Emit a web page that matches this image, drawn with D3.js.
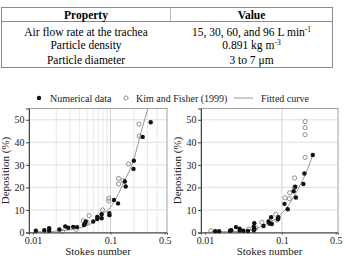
<!DOCTYPE html>
<html>
<head>
<meta charset="utf-8">
<script src="https://cdn.jsdelivr.net/npm/d3@7"></script>
<style>
  body { margin: 0; background: #fff; }
  svg { display: block; font-family: "Liberation Serif", "Times New Roman", serif; }
</style>
</head>
<body>
<script>
let width = 345;
let height = 256;

// table rows
let tableHeader = ["Property", "Value"];
let tableProps = ["Air flow rate at the trachea", "Particle density", "Particle diameter"];
let tableValues = [
    ["15, 30, 60, and 96 L min", "-1"],
    ["0.891 kg m", "-3"],
    ["3 to 7 \u03bcm", ""]
];

// axis ticks
let xTicks = [0.01, 0.1, 0.5];
let xTickLabels = ["0.01", "0.1", "0.5"];
let yTicks = [0, 10, 20, 30, 40, 50];

// left panel
let leftNumerical = [
    [0.0109, 0.8], [0.014, 1.0], [0.0162, 1.9], [0.0162, 0.8], [0.0219, 1.3],
    [0.0261, 2.7], [0.0285, 2.1], [0.033, 2.5], [0.037, 2.4], [0.0455, 3.3],
    [0.047, 4.0], [0.048, 4.9], [0.06, 4.9], [0.0676, 6.0], [0.0676, 6.9],
    [0.077, 6.3], [0.077, 8.1], [0.0966, 8.6], [0.097, 7.7], [0.111, 14.4],
    [0.125, 12.9], [0.153, 22.6], [0.157, 20.4], [0.2, 31.8], [0.198, 28.2],
    [0.26, 42.4], [0.33, 48.9]
];
let leftKim = [
    [0.024, 0.4], [0.036, 1.4], [0.0446, 5.2], [0.05, 4.5], [0.053, 7.5],
    [0.068, 6.7], [0.079, 10.0], [0.095, 15.2], [0.095, 14.0], [0.127, 24.0],
    [0.127, 21.5], [0.145, 23.0], [0.171, 30.4], [0.233, 48.1], [0.235, 42.8]
];
let leftFit = [
    [0.011, 0.3], [0.02, 0.6], [0.04, 2.0], [0.06, 4.5], [0.08, 8.3],
    [0.1, 11.2], [0.12, 15.6], [0.15, 22.6], [0.2, 32.5], [0.25, 45.0], [0.31, 56]
];

// right panel
let rightNumerical = [
    [0.0136, 0.6], [0.0153, 0.6], [0.0212, 0.8], [0.022, 1.0], [0.0253, 2.4],
    [0.0283, 1.7], [0.0283, 0.9], [0.0316, 0.8], [0.0362, 0.7], [0.043, 2.5],
    [0.0438, 4.1], [0.0438, 1.7], [0.0433, 1.0], [0.0577, 2.9], [0.067, 4.9],
    [0.069, 4.0], [0.0725, 6.8], [0.074, 3.8], [0.09, 6.8], [0.089, 5.9],
    [0.108, 12.7], [0.119, 10.3], [0.142, 18.3], [0.152, 15.5], [0.149, 20.3],
    [0.19, 21.5], [0.196, 26.2], [0.252, 34.4]
];
let rightKim = [
    [0.012, 0.8], [0.037, 1.5], [0.046, 2.0], [0.055, 4.5], [0.07, 5.2],
    [0.083, 8.1], [0.086, 5.5], [0.11, 15.4], [0.125, 15.0], [0.126, 17.6],
    [0.146, 24.2], [0.146, 20.0], [0.2, 33.3], [0.2, 49.2], [0.2, 46.5], [0.2, 43.4]
];
let rightFit = [
    [0.012, 0.3], [0.03, 0.5], [0.05, 2.2], [0.07, 4.6], [0.09, 7.0],
    [0.1, 8.5], [0.12, 11.8], [0.15, 17.2], [0.2, 25.5], [0.252, 34.4]
];

let svg = d3.select("body")
    .append("svg")
    .attr("width", width)
    .attr("height", height);

// ---- table ----
let tbl = svg.append("g");
let tLeft = 1.5, tRight = 332.5, tTop = 7.5, tBottom = 67.5, tHead = 21.5, tMid = 170.5;
tbl.append("rect")
    .attr("x", tLeft).attr("y", tTop)
    .attr("width", tRight - tLeft).attr("height", tBottom - tTop)
    .attr("fill", "none").attr("stroke", "#8a8a8a").attr("stroke-width", 1);
tbl.append("line")
    .attr("x1", tLeft).attr("x2", tRight).attr("y1", tHead).attr("y2", tHead)
    .attr("stroke", "#8a8a8a");
tbl.append("line")
    .attr("x1", tMid).attr("x2", tMid).attr("y1", tTop).attr("y2", tHead)
    .attr("stroke", "#bbb");

let colCenters = [(tLeft + tMid) / 2, (tMid + tRight) / 2];
tbl.selectAll(".head")
    .data(tableHeader)
    .enter().append("text")
    .attr("x", (d, i) => colCenters[i])
    .attr("y", 18.5)
    .attr("text-anchor", "middle")
    .attr("font-weight", "bold")
    .attr("font-size", 11.5)
    .text(d => d);

let rowY = [35.5, 48.5, 63.5];
tbl.selectAll(".prop")
    .data(tableProps)
    .enter().append("text")
    .attr("x", colCenters[0])
    .attr("y", (d, i) => rowY[i])
    .attr("text-anchor", "middle")
    .attr("font-size", 11.5)
    .text(d => d);

let valText = tbl.selectAll(".val")
    .data(tableValues)
    .enter().append("text")
    .attr("x", colCenters[1])
    .attr("y", (d, i) => rowY[i])
    .attr("text-anchor", "middle")
    .attr("font-size", 11.5);
valText.append("tspan").text(d => d[0]);
valText.append("tspan")
    .attr("dy", -4)
    .attr("font-size", 7.5)
    .text(d => d[1]);

// ---- legend ----
let legend = svg.append("g").attr("font-size", 10).attr("fill", "#222");
legend.append("circle").attr("cx", 39).attr("cy", 98).attr("r", 2.2).attr("fill", "#111");
legend.append("text").attr("x", 50).attr("y", 101.5).text("Numerical data");
legend.append("circle").attr("cx", 126).attr("cy", 98).attr("r", 2.1)
    .attr("fill", "none").attr("stroke", "#777").attr("stroke-width", 0.8);
legend.append("text").attr("x", 136).attr("y", 101.5).text("Kim and Fisher (1999)");
legend.append("line").attr("x1", 234).attr("x2", 253).attr("y1", 98).attr("y2", 98)
    .attr("stroke", "#999").attr("stroke-width", 1);
legend.append("text").attr("x", 261).attr("y", 101.5).text("Fitted curve");

// ---- panels ----
function drawPanel(left, right, numerical, kim, fit, denseGrid) {
    let top = 108.5, bottom = 232.5;
    let x = d3.scaleLog().domain([0.0089, 0.535]).range([left, right]);
    let y = d3.scaleLinear().domain([0, 55]).range([bottom, top]);

    let g = svg.append("g");

    // grid
    let vGrid = denseGrid
        ? [0.02, 0.03, 0.04, 0.05, 0.06, 0.07, 0.08, 0.09, 0.1, 0.2, 0.3, 0.4]
        : [0.1];
    g.selectAll(".vgrid")
        .data(vGrid)
        .enter().append("line")
        .attr("x1", d => x(d)).attr("x2", d => x(d))
        .attr("y1", top).attr("y2", bottom)
        .attr("stroke", d => d === 0.1 ? "#c8c8c8" : "#e2e2e2")
        .attr("stroke-width", 0.8);
    g.selectAll(".hgrid")
        .data(yTicks.slice(1))
        .enter().append("line")
        .attr("x1", left).attr("x2", right)
        .attr("y1", d => y(d)).attr("y2", d => y(d))
        .attr("stroke", "#d8d8d8")
        .attr("stroke-width", 0.8);

    // frame
    g.append("rect")
        .attr("x", left).attr("y", top)
        .attr("width", right - left).attr("height", bottom - top)
        .attr("fill", "none").attr("stroke", "#8a8a8a").attr("stroke-width", 0.8);

    // y axis
    let yAxis = g.append("g")
        .attr("transform", `translate(${left},0)`)
        .call(d3.axisLeft(y).tickValues(yTicks).tickSize(3).tickPadding(1.5));
    yAxis.select(".domain").attr("stroke", "#444");
    yAxis.selectAll(".tick line").attr("stroke", "#444");
    yAxis.selectAll("text").attr("font-size", 10).attr("fill", "#222")
        .attr("font-family", "Liberation Serif, serif");

    // x axis
    let xAxis = g.append("g")
        .attr("transform", `translate(0,${bottom})`)
        .call(d3.axisBottom(x).tickValues(xTicks).tickFormat((d, i) => xTickLabels[i]).tickSize(2).tickPadding(2));
    xAxis.select(".domain").attr("stroke", "#444");
    xAxis.selectAll(".tick line").attr("stroke", "#444");
    xAxis.selectAll("text").attr("font-size", 10).attr("fill", "#222")
        .attr("font-family", "Liberation Serif, serif");

    // axis titles
    g.append("text")
        .attr("x", (left + right) / 2)
        .attr("y", 255)
        .attr("text-anchor", "middle")
        .attr("font-size", 11)
        .attr("fill", "#222")
        .text("Stokes number");
    g.append("text")
        .attr("transform", `translate(${left - 20},${(top + bottom) / 2}) rotate(-90)`)
        .attr("text-anchor", "middle")
        .attr("font-size", 11)
        .attr("fill", "#222")
        .text("Deposition (%)");

    // clip for curve
    let clipId = "clip" + Math.round(left);
    svg.append("clipPath").attr("id", clipId)
        .append("rect")
        .attr("x", left).attr("y", top)
        .attr("width", right - left).attr("height", bottom - top);

    let line = d3.line()
        .x(d => x(d[0]))
        .y(d => y(d[1]))
        .curve(d3.curveMonotoneX);

    g.append("path")
        .datum(fit)
        .attr("clip-path", `url(#${clipId})`)
        .attr("d", line)
        .attr("fill", "none")
        .attr("stroke", "#999")
        .attr("stroke-width", 1);

    g.selectAll(".kim")
        .data(kim)
        .enter().append("circle")
        .attr("cx", d => x(d[0]))
        .attr("cy", d => y(d[1]))
        .attr("r", 2.1)
        .attr("fill", "none")
        .attr("stroke", "#777")
        .attr("stroke-width", 0.8);

    g.selectAll(".num")
        .data(numerical)
        .enter().append("circle")
        .attr("cx", d => x(d[0]))
        .attr("cy", d => y(d[1]))
        .attr("r", 2.2)
        .attr("fill", "#111");
}

drawPanel(29, 167, leftNumerical, leftKim, leftFit, true);
drawPanel(201, 338, rightNumerical, rightKim, rightFit, false);
</script>
</body>
</html>
